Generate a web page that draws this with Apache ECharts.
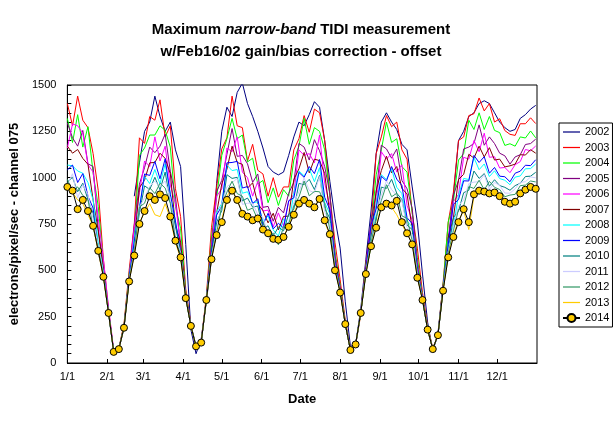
<!DOCTYPE html>
<html>
<head>
<meta charset="utf-8">
<script src="https://cdn.jsdelivr.net/npm/echarts@6/dist/echarts.min.js"></script>
<style>
  html, body { margin: 0; padding: 0; background: #fff; }
  #chart { width: 615px; height: 421px; }
</style>
</head>
<body>
<div id="chart"></div>
<script>
// 采样日（一年中的第几天，从 1/1 算起）
const days = [
  0, 4, 8, 12, 16, 20, 24, 28, 32, 36, 40, 44, 48, 52, 56, 60, 64, 68, 72, 76,
  80, 84, 88, 92, 96, 100, 104, 108, 112, 116, 120, 124, 128, 132, 136, 140, 144, 148, 152, 156,
  160, 164, 168, 172, 176, 180, 184, 188, 192, 196, 200, 204, 208, 212, 216, 220, 224, 228, 232, 236,
  240, 244, 248, 252, 256, 260, 264, 268, 272, 276, 280, 284, 288, 292, 296, 300, 304, 308, 312, 316,
  320, 324, 328, 332, 336, 340, 344, 348, 352, 356, 360, 364
]
// 月初刻度
const tickDays = [0, 31, 59, 90, 120, 151, 181, 212, 243, 273, 304, 334]
const tickLabels = ['1/1', '2/1', '3/1', '4/1', '5/1', '6/1', '7/1', '8/1', '9/1', '10/1', '11/1', '12/1']
const years = ['2002', '2003', '2004', '2005', '2006', '2007', '2008', '2009', '2010', '2011', '2012', '2013', '2014']

const y2002 = [
  null, null, null, null, null, null, null, null, null, null, null, null, null,
  900, 1080, 1250, 1300, 1440, 1330, 1250, 1300, 1150, 1060, 640, 180, 50, 130, 330, 560, 970,
  1250, 1380, 1330, 1460, 1510, 1400, 1330, 1250, 1160, 1060, 1030, 1015, 1030, 1120, 1220, 1300, 1280,
  1340, 1410, 1380, 1200, 980, 780, 620, 330, 90, 100, 290, 560, 820, 1130, 1300, 1350, 1300,
  1260, 1180, 1150, 950, 760, 480, 220, 60, 160, 420, 640, 900, 1200, 1250, 1330, 1350, 1400,
  1415, 1400, 1350, 1300, 1270, 1250, 1260, 1320, 1340, 1370, 1390
]
const y2003 = [
  1400, 1280, 1440, 1310, 1270, 1130, 930, 560, 290, 65,
  80, 210, 500, 750, 1215, 1185, 1330, 1310, 1420, 1220,
  1280, 940, 790, 400, 210, 80, 120, 360, 730, 950,
  1155, 1215, 1440, 1280, 1270, 1090, 1180, 1040, 1020, 900,
  1000, 895, 950, 950, 1150, 1210, 1335, 1245, 1370, 1350,
  1200, 910, 650, 450, 230, 75, 95, 260, 540, 740,
  1130, 1220, 1335, 1275, 1300, 1150, 1100, 810, 620, 380,
  200, 80, 150, 430, 760, 920, 1200, 1220, 1335, 1345,
  1430, 1360, 1400, 1300, 1318, 1254, 1234, 1228, 1291, 1291,
  1323, 1292
]
const y2004 = [
  1320, 1190, 1340, 1165, 1275, 1025, 845, 540, 280, 62,
  78, 200, 480, 690, 1120, 1160, 1230, 1230, 1280, 1255,
  1165, 845, 725, 380, 205, 85, 115, 345, 675, 890,
  1120, 1210, 1320, 1210, 1230, 1085, 1105, 965, 985, 865,
  945, 850, 935, 900, 1095, 1170, 1320, 1180, 1270, 1250,
  1150, 905, 600, 420, 220, 72, 98, 265, 530, 720,
  1015, 1150, 1300, 1190, 1210, 1060, 1030, 815, 570, 360,
  190, 78, 150, 420, 760, 870, 1095, 1130, 1310, 1260,
  1350, 1260, 1330, 1255, 1243, 1174, 1183, 1170, 1220, 1214,
  1252, 1215
]
const y2005 = [
  1295, 1215, 1170, 1255, 1075, 1060, 720, 520, 275, 60,
  75, 195, 470, 745, 965, 1055, 1165, 1135, 1170, 1235,
  1035, 900, 630, 370, 200, 88, 112, 345, 640, 925,
  985, 1125, 1265, 1115, 1120, 1075, 975, 1020, 840, 845,
  765, 840, 810, 915, 975, 1185, 1165, 1095, 1205, 1145,
  1060, 915, 580, 410, 215, 70, 100, 270, 520, 765,
  915, 1175, 1155, 1105, 1155, 985, 940, 835, 540, 355,
  185, 75, 150, 410, 670, 905, 985, 1155, 1165, 1185,
  1285, 1175, 1220, 1184, 1132, 1118, 1073, 1112, 1124, 1179,
  1184, 1208
]
const y2006 = [
  1160, 1290, 1280, 1240, 1070, 1030, 780, 560, 300, 70,
  75, 190, 460, 730, 920, 1090, 1060, 1220, 1090, 1170,
  960, 860, 640, 365, 200, 90, 110, 342, 620, 900,
  940, 1160, 1140, 1220, 1030, 1000, 900, 980, 820, 825,
  735, 810, 740, 870, 910, 1150, 1120, 1130, 1080, 1230,
  970, 850, 570, 400, 212, 70, 100, 272, 510, 740,
  850, 1140, 1100, 1130, 1030, 1070, 850, 770, 520, 350,
  182, 75, 150, 405, 620, 870, 910, 1110, 1100, 1200,
  1140, 1240, 1110, 1113, 1052, 1055, 1027, 1070, 1087, 1152,
  1145, 1171
]
const y2007 = [
  1170, 1132, 1152, 1104, 1072, 880, 712, 500, 280, 62,
  78, 195, 460, 648, 946, 986, 1080, 1082, 1132, 1104,
  1022, 740, 652, 360, 200, 90, 110, 340, 610, 808,
  966, 1046, 1170, 1082, 1072, 944, 972, 860, 822, 756,
  808, 718, 791, 792, 990, 1048, 1136, 1026, 1100, 1092,
  1022, 804, 560, 395, 210, 70, 100, 270, 505, 662,
  930, 1038, 1116, 1026, 1060, 942, 912, 724, 510, 348,
  180, 75, 150, 400, 676, 782, 990, 1018, 1126, 1106,
  1170, 1112, 1162, 1095, 1100, 1058, 1064, 1073, 1124, 1122,
  1151, 1132
]
const y2008 = [
  1068, 1064, 1036, 1024, 974, 880, 652, 490, 275, 60,
  75, 192, 455, 676, 840, 1008, 968, 1044, 966, 1074,
  914, 760, 592, 355, 200, 90, 110, 342, 590, 816,
  860, 1068, 1038, 1044, 916, 924, 864, 870, 762, 794,
  718, 684, 778, 748, 916, 1036, 1010, 1048, 978, 1054,
  866, 804, 540, 390, 210, 70, 100, 270, 495, 628,
  856, 1016, 990, 1048, 948, 914, 766, 734, 500, 344,
  180, 75, 150, 398, 658, 738, 906, 996, 990, 1108,
  1043, 1074, 1006, 1037, 995, 986, 962, 1003, 1009, 1048,
  1049, 1074
]
const y2009 = [
  1042, 1068, 974, 1022, 900, 836, 594, 480, 272, 60,
  75, 190, 458, 653, 832, 1020, 1012, 1088, 994, 1102,
  910, 766, 600, 358, 200, 90, 110, 344, 595, 798,
  847, 1080, 1082, 1088, 944, 952, 860, 886, 744, 808,
  724, 754, 728, 876, 891, 1028, 1002, 1060, 1022, 1098,
  894, 827, 545, 392, 210, 70, 100, 270, 498, 746,
  831, 1008, 982, 1060, 992, 958, 784, 752, 505, 344,
  180, 75, 150, 400, 640, 856, 881, 983, 982, 1120,
  1082, 1113, 1024, 1055, 1008, 1005, 978, 1024, 1035, 1067,
  1065, 1097
]
const y2010 = [
  976, 1002, 924, 970, 881, 807, 625, 470, 270, 60,
  75, 190, 450, 615, 812, 956, 936, 1002, 934, 1030,
  871, 737, 600, 353, 200, 90, 110, 342, 580, 759,
  822, 1016, 996, 1002, 874, 890, 841, 847, 727, 740,
  684, 734, 713, 804, 830, 969, 962, 991, 936, 1012,
  834, 780, 525, 385, 210, 70, 100, 270, 490, 684,
  770, 949, 942, 991, 916, 882, 744, 720, 485, 342,
  180, 75, 150, 396, 610, 784, 820, 919, 932, 1036,
  996, 1022, 954, 989, 957, 948, 932, 957, 970, 1006,
  1008, 1029
]
const y2011 = [
  963, 1021, 891, 962, 907, 775, 630, 478, 268, 58,
  76, 188, 445, 610, 843, 891, 953, 981, 951, 982,
  887, 685, 595, 352, 201, 91, 108, 341, 575, 719,
  858, 951, 973, 996, 856, 862, 862, 800, 786, 696,
  703, 657, 733, 758, 865, 924, 998, 931, 918, 1006,
  816, 754, 520, 383, 210, 70, 100, 270, 488, 655,
  805, 904, 983, 936, 903, 876, 731, 692, 480, 341,
  180, 75, 150, 395, 600, 733, 850, 879, 968, 976,
  978, 1016, 936, 974, 958, 917, 916, 940, 975, 978,
  1004, 999
]
const y2012 = [
  991, 924, 950, 904, 881, 733, 615, 470, 270, 60,
  75, 190, 445, 600, 842, 862, 946, 914, 970, 944,
  861, 663, 585, 350, 200, 90, 110, 340, 570, 701,
  847, 922, 981, 914, 900, 824, 836, 773, 764, 680,
  700, 638, 736, 748, 848, 896, 982, 902, 926, 924,
  860, 719, 512, 382, 210, 70, 100, 270, 485, 645,
  788, 876, 962, 897, 916, 794, 780, 659, 472, 340,
  180, 75, 150, 393, 590, 713, 828, 846, 952, 942,
  986, 934, 980, 948, 936, 897, 906, 910, 957, 960,
  982, 977
]
const y2013 = [
  960, 920, 880, 860, 800, 740, 600, 460, 272, 58,
  74, 190, 442, 585, 760, 810, 860, 800, 790, 860,
  780, 650, 565, 350, 200, 90, 110, 340, 560, 700,
  770, 900, 940, 870, 820, 800, 760, 790, 720, 700,
  665, 660, 680, 740, 810, 870, 890, 860, 830, 900,
  760, 690, 505, 380, 210, 70, 100, 270, 482, 630,
  740, 850, 870, 840, 800, 745, 700, 645, 462, 340,
  180, 75, 150, 390, 575, 690, 770, 820, 720, 900,
  940, 930, 920, 915, 895, 875, 860, 875, 905, 930,
  945, 935
]
const y2014 = [
  950, 930, 830, 880, 820, 740, 605, 465, 270, 60,
  75, 190, 440, 580, 750, 820, 900, 880, 910, 890,
  790, 660, 570, 350, 200, 90, 110, 340, 560, 690,
  760, 880, 930, 880, 805, 790, 770, 780, 720, 700,
  670, 665, 680, 735, 800, 860, 880, 860, 840, 885,
  770, 695, 500, 380, 210, 70, 100, 270, 480, 630,
  730, 840, 860, 850, 875, 760, 700, 640, 460, 340,
  180, 75, 150, 390, 570, 680, 760, 830, 760, 910,
  930, 925, 915, 920, 900, 870, 860, 870, 915, 935,
  950, 940
]

const values = [y2002, y2003, y2004, y2005, y2006, y2007, y2008, y2009, y2010, y2011, y2012, y2013, y2014]
const colors = ['#000080', '#ff0000', '#00ff00', '#800080', '#ff00ff', '#800000', '#00ffff',
  '#0000ff', '#008080', '#ccccff', '#339966', '#ffcc00', '#000000']

const font = 'Liberation Sans, Arial, sans-serif'
const myChart = echarts.init(document.querySelector('#chart'))

const series = years.map((name, k) => {
  const isLast = k === years.length - 1
  return {
    name,
    type: 'line',
    data: days.map((d, i) => [d, values[k][i]]),
    symbol: isLast ? 'circle' : 'none',
    symbolSize: 7,
    showSymbol: isLast,
    itemStyle: isLast ? { color: '#ffcc00', borderColor: '#000', borderWidth: 1 } : { color: colors[k] },
    lineStyle: { color: colors[k], width: 1 },
    clip: true,
  }
})

// 图例：普通年份只画一条线，2014 保留线+圆点
const legendData = years.map((name, k) =>
  k < years.length - 1 ? { name, icon: 'path://M0,0H18V1.3H0Z' } : { name }
)

const option = {
  animation: false,
  backgroundColor: '#fff',
  title: {
    text: '{b|Maximum }{i|narrow-band}{b| TIDI measurement}\n{b|w/Feb16/02 gain/bias correction - offset}',
    left: 296,
    top: 14,
    textAlign: 'center',
    textStyle: {
      rich: {
        b: { fontFamily: font, fontSize: 15, fontWeight: 'bold', color: '#000', lineHeight: 22 },
        i: { fontFamily: font, fontSize: 15, fontWeight: 'bold', fontStyle: 'italic', color: '#000', lineHeight: 22 },
      },
    },
  },
  grid: {
    left: 67,
    right: 78,
    top: 85,
    bottom: 58,
    show: true,
    borderColor: '#000',
    borderWidth: 1,
    backgroundColor: 'transparent',
  },
  legend: {
    data: legendData,
    orient: 'vertical',
    left: 559,
    top: 123,
    padding: [3, 3, 3, 3],
    borderColor: '#000',
    borderWidth: 1,
    itemWidth: 17,
    itemHeight: 10,
    itemGap: 3.5,
    textStyle: { fontFamily: font, fontSize: 11, color: '#000', lineHeight: 12 },
  },
  xAxis: {
    type: 'value',
    min: 0,
    max: 365,
    name: 'Date',
    nameLocation: 'middle',
    nameGap: 30,
    nameTextStyle: { fontFamily: font, fontSize: 13, fontWeight: 'bold', color: '#000' },
    axisLine: { lineStyle: { color: '#000', width: 1 } },
    axisTick: { customValues: tickDays, inside: true, length: 4, lineStyle: { color: '#000' } },
    axisLabel: {
      customValues: tickDays,
      formatter: v => tickLabels[tickDays.indexOf(v)],
      fontFamily: font,
      fontSize: 11,
      color: '#000',
      margin: 8,
    },
    splitLine: { show: false },
  },
  yAxis: {
    type: 'value',
    min: 0,
    max: 1500,
    interval: 250,
    name: 'electrons/pixel/sec - channel 075',
    nameLocation: 'middle',
    nameGap: 38,
    nameTextStyle: { fontFamily: font, fontSize: 13, fontWeight: 'bold', color: '#000' },
    axisLine: { show: true, lineStyle: { color: '#000', width: 1 } },
    axisTick: { inside: true, length: 4, lineStyle: { color: '#000' } },
    minorTick: { show: true, splitNumber: 5, length: 4, lineStyle: { color: '#000' } },
    axisLabel: { formatter: v => String(v), fontFamily: font, fontSize: 11, color: '#000', margin: 11 },
    splitLine: { show: false },
  },
  series,
}
myChart.setOption(option)
</script>
</body>
</html>
